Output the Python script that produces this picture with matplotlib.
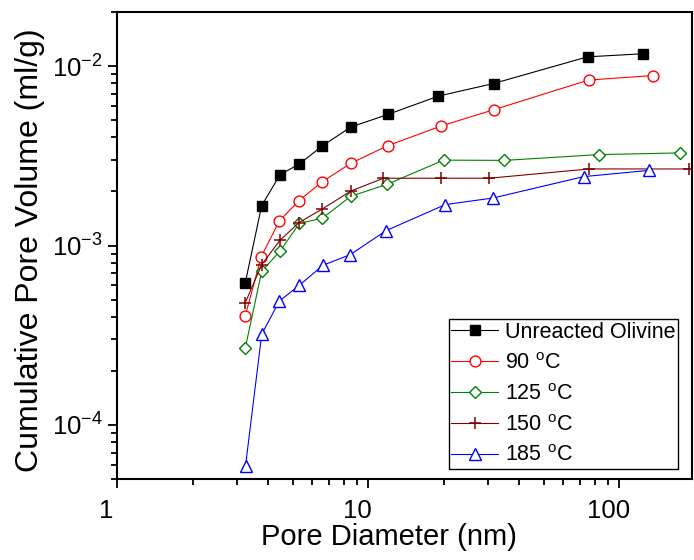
import matplotlib
matplotlib.use("Agg")
import matplotlib.pyplot as plt
from matplotlib.ticker import LogLocator, FixedLocator, FixedFormatter, NullFormatter
from matplotlib.transforms import ScaledTranslation

plt.rcParams['font.family'] = ['Liberation Sans', 'DejaVu Sans']
plt.rcParams['mathtext.fontset'] = 'custom'
plt.rcParams['mathtext.rm'] = 'Liberation Sans'
plt.rcParams['mathtext.it'] = 'Liberation Sans:italic'
plt.rcParams['mathtext.bf'] = 'Liberation Sans:bold'

# Pore diameter (nm) and cumulative pore volume (ml/g) for each sample
d_unreacted = [3.24, 3.77, 4.46, 5.33, 6.58, 8.53, 11.98, 19.06, 31.6, 74.8, 124.3]
v_unreacted = [6.17e-4, 1.67e-3, 2.48e-3, 2.85e-3, 3.59e-3, 4.57e-3, 5.37e-3, 6.80e-3, 7.99e-3, 1.125e-2, 1.17e-2]

d_90 = [3.24, 3.75, 4.43, 5.31, 6.58, 8.53, 11.98, 19.5, 31.7, 75.5, 136.0]
v_90 = [4.04e-4, 8.63e-4, 1.37e-3, 1.78e-3, 2.27e-3, 2.87e-3, 3.60e-3, 4.63e-3, 5.71e-3, 8.35e-3, 8.85e-3]

d_125 = [3.24, 3.77, 4.46, 5.33, 6.58, 8.53, 11.88, 20.0, 34.9, 82.9, 174.0]
v_125 = [2.67e-4, 7.19e-4, 9.31e-4, 1.33e-3, 1.42e-3, 1.88e-3, 2.19e-3, 2.99e-3, 2.98e-3, 3.21e-3, 3.28e-3]

d_150 = [3.24, 3.77, 4.46, 5.30, 6.58, 8.53, 11.5, 19.6, 30.3, 76.0, 189.0]
v_150 = [4.79e-4, 7.83e-4, 1.07e-3, 1.34e-3, 1.60e-3, 2.01e-3, 2.37e-3, 2.37e-3, 2.37e-3, 2.67e-3, 2.67e-3]

d_185 = [3.25, 3.77, 4.43, 5.33, 6.61, 8.50, 11.79, 20.3, 31.5, 72.2, 131.0]
v_185 = [5.93e-5, 3.20e-4, 4.90e-4, 6.01e-4, 7.76e-4, 8.90e-4, 1.21e-3, 1.69e-3, 1.84e-3, 2.42e-3, 2.62e-3]

series_labels = ['Unreacted Olivine', '90 $^{\\rm o}$C', '125 $^{\\rm o}$C',
                 '150 $^{\\rm o}$C', '185 $^{\\rm o}$C']

x_tick_values = [1, 10, 100]
x_tick_labels = ['1', '10', '100']

fig = plt.figure(figsize=(6.94, 5.60), dpi=100)
ax = fig.add_axes([0.1686, 0.1446, 0.9971 - 0.1686, 0.9786 - 0.1446])

lw = 0.8
ax.plot(d_unreacted, v_unreacted, color='black', lw=lw, marker='s', ms=6.8,
        mfc='black', mec='black', label=series_labels[0])
ax.plot(d_90, v_90, color='#FF0000', lw=lw, marker='o', ms=7.8,
        mfc='white', mec='#FF0000', mew=1.0, label=series_labels[1])
ax.plot(d_125, v_125, color='#008000', lw=lw, marker='D', ms=6.2,
        mfc='white', mec='#008000', mew=1.0, label=series_labels[2])
ax.plot(d_150, v_150, color='#800000', lw=lw, marker='+', ms=8.0,
        mec='#800000', mew=1.1, label=series_labels[3])
ax.plot(d_185, v_185, color='#0000FF', lw=lw, marker='^', ms=8.5,
        mfc='white', mec='#0000FF', mew=1.0, label=series_labels[4])

ax.set_xscale('log')
ax.set_yscale('log')
ax.set_xlim(1, 195)
ax.set_ylim(5e-5, 2e-2)

ax.xaxis.set_major_locator(FixedLocator(x_tick_values))
ax.xaxis.set_major_formatter(FixedFormatter(x_tick_labels))
ax.xaxis.set_minor_locator(LogLocator(base=10, subs=range(2, 10)))
ax.xaxis.set_minor_formatter(NullFormatter())
ax.yaxis.set_major_locator(LogLocator(base=10))
ax.yaxis.set_minor_locator(LogLocator(base=10, subs=range(2, 10)))
ax.yaxis.set_minor_formatter(NullFormatter())

for s in ax.spines.values():
    s.set_linewidth(1.5)
ax.tick_params(which='both', direction='out', top=False, right=False, width=1.3)
ax.tick_params(which='major', length=6.5, labelsize=18.5)
ax.tick_params(axis='x', which='major', pad=8)
ax.tick_params(axis='y', which='major', pad=4)
ax.tick_params(which='minor', length=4)

# x tick labels sit slightly left of their ticks
shift = ScaledTranslation(-11 / 100, 0, fig.dpi_scale_trans)
for lbl in ax.get_xticklabels():
    lbl.set_transform(lbl.get_transform() + shift)

ax.set_xlabel('Pore Diameter (nm)', fontsize=21)
ax.xaxis.set_label_coords(0.473, -0.094)
ax.set_ylabel('Cumulative Pore Volume (ml/g)', fontsize=23)
ax.yaxis.set_label_coords(-0.125, 0.49)

leg = ax.legend(loc='lower right', bbox_to_anchor=(0.9757, 0.0214),
                fontsize=15.5, frameon=True, fancybox=False,
                edgecolor='black', framealpha=1, handlelength=2.2,
                handletextpad=0.3, labelspacing=0.46, borderpad=0.12,
                borderaxespad=0.0)
leg.get_frame().set_linewidth(1.0)

fig.savefig('out.png', dpi=100)
